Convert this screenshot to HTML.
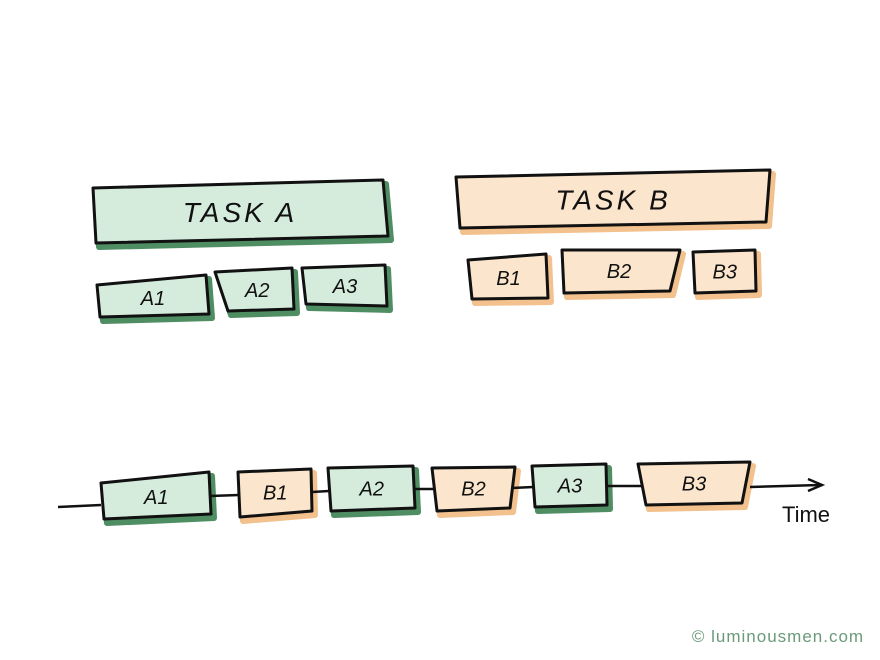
<!DOCTYPE html>
<html><head><meta charset="utf-8"><style>
html,body{margin:0;padding:0;background:#fff;}
svg{display:block;}
text{font-family:"Liberation Sans",sans-serif;fill:#111;text-anchor:middle;}
</style></head><body>
<svg width="880" height="660" viewBox="0 0 880 660">
<defs>
<filter id="rough"><feTurbulence type="fractalNoise" baseFrequency="0.9" numOctaves="1" result="n"/><feDisplacementMap in="SourceGraphic" in2="n" scale="2"/></filter>
</defs>
<g id="boxes"></g>
<g>
<polyline points="58,507 101,505" stroke="#111" stroke-width="2.5" fill="none"/>
<polyline points="750,487 820,485" stroke="#111" stroke-width="2.5" fill="none"/>
<polyline points="808,479 822,485 808,491" stroke="#111" stroke-width="2.5" fill="none"/>
<line x1="210" y1="496" x2="239" y2="495" stroke="#111" stroke-width="2.5"/>
<line x1="312" y1="492" x2="329" y2="491" stroke="#111" stroke-width="2.5"/>
<line x1="414" y1="489" x2="433" y2="489" stroke="#111" stroke-width="2.5"/>
<line x1="512" y1="488" x2="533" y2="487" stroke="#111" stroke-width="2.5"/>
<line x1="606" y1="486" x2="641" y2="486" stroke="#111" stroke-width="2.5"/>
</g>
<text x="806" y="522" font-size="22">Time</text>
<text x="778" y="642" font-size="17" fill="#5a8a6a" style="fill:#6a9a7a;letter-spacing:1px">© luminousmen.com</text>
</svg>
<script>
const boxes = [
 {n:'task-a', c:'g', t:'TASK A', fs:28, p:[[93,188],[383,180],[388,236],[96,243]]},
 {n:'task-b', c:'o', t:'TASK B', fs:28, p:[[456,177],[770,170],[766,222],[460,228]]},
 {n:'a1', c:'g', t:'A1', fs:20, p:[[97,285],[206,275],[209,314],[100,317]]},
 {n:'a2', c:'g', t:'A2', fs:20, p:[[215,272],[292,268],[294,309],[228,311]]},
 {n:'a3', c:'g', t:'A3', fs:20, p:[[302,268],[385,265],[387,306],[306,304]]},
 {n:'b1', c:'o', t:'B1', fs:20, p:[[468,260],[546,254],[548,298],[472,299]]},
 {n:'b2', c:'o', t:'B2', fs:20, p:[[562,250],[680,250],[670,291],[564,293]]},
 {n:'b3', c:'o', t:'B3', fs:20, p:[[693,252],[755,250],[756,291],[695,293]]},
 {n:'timeline-a1', c:'g', t:'A1', fs:20, p:[[101,483],[209,472],[211,514],[104,519]]},
 {n:'timeline-b1', c:'o', t:'B1', fs:20, p:[[238,472],[311,469],[312,511],[240,517]]},
 {n:'timeline-a2', c:'g', t:'A2', fs:20, p:[[328,468],[413,466],[415,508],[331,511]]},
 {n:'timeline-b2', c:'o', t:'B2', fs:20, p:[[432,468],[515,467],[510,508],[437,511]]},
 {n:'timeline-a3', c:'g', t:'A3', fs:20, p:[[532,466],[606,464],[607,505],[535,507]]},
 {n:'timeline-b3', c:'o', t:'B3', fs:20, p:[[638,464],[750,462],[742,503],[646,505]]}
];
const NS='http://www.w3.org/2000/svg';
const g=document.getElementById('boxes');
const col={g:{f:'#d5ecdd',s:'#4f8d63'},o:{f:'#fbe5cc',s:'#f2c18e'}};
boxes.forEach(b=>{
 const grp=document.createElementNS(NS,'g');
 
 
 const pts=b.p.map(q=>q.join(',')).join(' ');
 const sh=document.createElementNS(NS,'polygon');
 sh.setAttribute('points',b.p.map(q=>(q[0]+3)+','+(q[1]+4)).join(' '));
 sh.setAttribute('fill',col[b.c].s);sh.setAttribute('stroke',col[b.c].s);sh.setAttribute('stroke-width','6');sh.setAttribute('stroke-linejoin','round');
 
 
 grp.appendChild(sh);
 const pg=document.createElementNS(NS,'polygon');
 pg.setAttribute('points',pts);pg.setAttribute('fill',col[b.c].f);pg.setAttribute('stroke','#111');pg.setAttribute('stroke-width','3');pg.setAttribute('stroke-linejoin','round');
 
 
 grp.appendChild(pg);
 const cx=b.p.reduce((s,q)=>s+q[0],0)/4, cy=b.p.reduce((s,q)=>s+q[1],0)/4;
 const tx=document.createElementNS(NS,'text');
 tx.setAttribute('x',cx);tx.setAttribute('y',cy+b.fs*0.36);tx.setAttribute('font-size',b.fs);
 tx.setAttribute('font-style','italic');
 if(b.fs>24)tx.setAttribute('letter-spacing','3');
 tx.textContent=b.t;
 
 
 grp.appendChild(tx);
 g.appendChild(grp);
});
</script>
</body></html>
